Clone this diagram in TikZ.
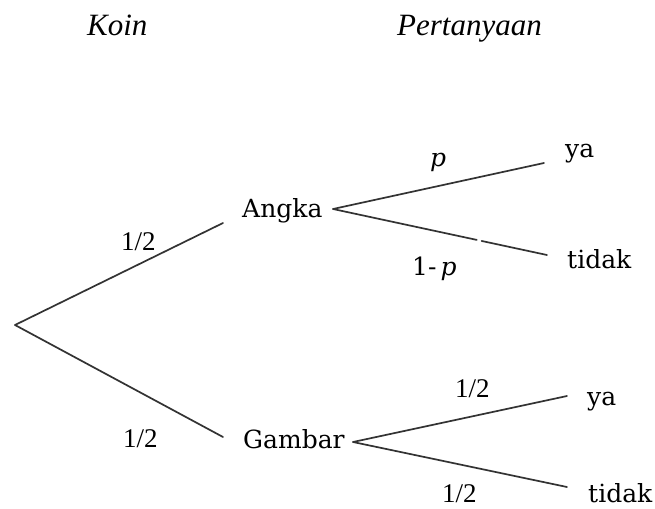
\documentclass[tikz,border=0pt]{standalone}
\usepackage{fontspec}
\setmainfont{DejaVu Serif}
\newfontfamily\timesfont{Liberation Serif}
\begin{document}
\begin{tikzpicture}[x=1pt,y=-1pt,
  lbl/.style={anchor=base west,inner sep=0pt,font=\fontsize{25}{30}\selectfont},
  frac/.style={anchor=base west,inner sep=0pt,font=\timesfont\fontsize{27}{30}\selectfont},
  head/.style={anchor=base west,inner sep=0pt,font=\timesfont\itshape\fontsize{31}{36}\selectfont},
  branch/.style={line width=1.7pt,draw=black!80,line cap=round}]
\useasboundingbox (0,0) rectangle (655,508);

% column headings
\node[head] (koin) at (87,36) {Koin};
\node[head] (tanya) at (397,36) {Pertanyaan};

% outcome labels
\node[lbl] (angka) at (242,217) {Angka};
\node[lbl] (gambar) at (243,448) {Gambar};
\node[lbl] (ya1) at (565,157) {ya};
\node[lbl] (tidak1) at (567,268) {tidak};
\node[lbl] (ya2) at (587,405) {ya};
\node[lbl] (tidak2) at (588,502) {tidak};

% probabilities
\node[frac] (pa) at (121,250) {1/2};
\node[frac] (pg) at (123,447) {1/2};
\node[lbl] (pya) at (430,166) {\itshape p};
\node[lbl] (ptidak) at (412,275) {1-\,\itshape p};
\node[frac] (qya) at (455,397) {1/2};
\node[frac] (qtidak) at (442,502) {1/2};

% branch end points
\coordinate (root) at (15,325);
\coordinate (aIn) at (223,223);
\coordinate (gIn) at (223,437);
\coordinate (aOut) at (333,209);
\coordinate (gOut) at (353,442);
\coordinate (ya1In) at (544,163);
\coordinate (tidak1In) at (547,255);
\coordinate (ya2In) at (567,396);
\coordinate (tidak2In) at (567,487);

% tree
\draw[branch] (root) -- (aIn);
\draw[branch] (root) -- (gIn);
\draw[branch] (aOut) -- (ya1In);
\draw[branch,dash pattern=on 147pt off 5pt on 200pt] (aOut) -- (tidak1In);
\draw[branch] (gOut) -- (ya2In);
\draw[branch] (gOut) -- (tidak2In);
\end{tikzpicture}
\end{document}
